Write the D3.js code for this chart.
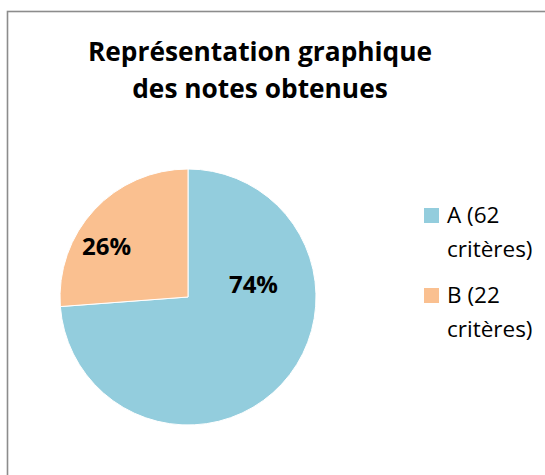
<!DOCTYPE html>
<html>
<head>
<meta charset="utf-8">
<script src="https://cdn.jsdelivr.net/npm/d3@7"></script>
<style>
  body { margin: 0; background: #fff; }
  text { font-family: "Open Sans", "Liberation Sans", sans-serif; }
</style>
</head>
<body>
<div id="chart"></div>
<script>
(function() {
	var width = 545,
		height = 475;

	// data
	var categories = ["A", "B"],
		criteria = [62, 22],
		legendLabels = [["A (62", "critères)"], ["B (22", "critères)"]],
		colors = ["#93CDDD", "#FAC090"],
		titleLines = ["Représentation graphique", "des notes obtenues"];

	var svg = d3.select("#chart").append("svg")
		.attr("width", width)
		.attr("height", height);

	// chart frame (runs off the right and bottom edges)
	svg.append("rect")
		.attr("x", 7.5)
		.attr("y", 11.5)
		.attr("width", 560)
		.attr("height", 480)
		.attr("fill", "#fff")
		.attr("stroke", "#8c8c8c")
		.attr("stroke-width", 1.6);

	/* title */
	svg.append("g").selectAll("text")
		.data(titleLines)
		.enter().append("text")
		.attr("x", 260)
		.attr("y", function(d, i) { return 61 + i * 37; })
		.attr("text-anchor", "middle")
		.attr("font-size", 26.3)
		.attr("font-weight", "bold")
		.attr("fill", "#000")
		.text(function(d) { return d; });

	/* pie */
	var cx = 188, cy = 297, radius = 128;
	var total = d3.sum(criteria);

	var pie = d3.pie().sort(null).value(function(d) { return d; });
	var arcs = pie(criteria);

	var arc = d3.arc().innerRadius(0).outerRadius(radius);

	var g = svg.append("g").attr("transform", "translate(" + cx + "," + cy + ")");

	g.selectAll("path")
		.data(arcs)
		.enter().append("path")
		.attr("d", arc)
		.attr("fill", function(d, i) { return colors[i]; })
		.attr("stroke", "#fff")
		.attr("stroke-width", 1);

	// label placement (angle from top, fraction of radius) - excel "best fit"
	var labelPos = [[79.5, 0.52], [302, 0.75]];

	g.selectAll("text.pct")
		.data(arcs)
		.enter().append("text")
		.attr("class", "pct")
		.attr("transform", function(d, i) {
			var a = labelPos[i][0] * Math.PI / 180,
				r = labelPos[i][1] * radius;
			return "translate(" + (Math.sin(a) * r) + "," + (-Math.cos(a) * r) + ")";
		})
		.attr("dy", "0.35em")
		.attr("text-anchor", "middle")
		.attr("font-size", 24)
		.attr("font-weight", "bold")
		.attr("fill", "#000")
		.text(function(d) { return d3.format(".0%")(d.value / total); });

	/* legend */
	var legend = svg.append("g").selectAll("g")
		.data(categories)
		.enter().append("g")
		.attr("transform", function(d, i) { return "translate(424," + (208 + i * 80) + ")"; });

	legend.append("rect")
		.attr("width", 15)
		.attr("height", 15)
		.attr("fill", function(d, i) { return colors[i]; });

	legend.append("text")
		.attr("font-size", 22.5)
		.attr("fill", "#000")
		.selectAll("tspan")
		.data(function(d, i) { return legendLabels[i]; })
		.enter().append("tspan")
		.attr("x", 23)
		.attr("y", function(d, j) { return 15 + j * 34; })
		.text(function(d) { return d; });
})();
</script>
</body>
</html>
